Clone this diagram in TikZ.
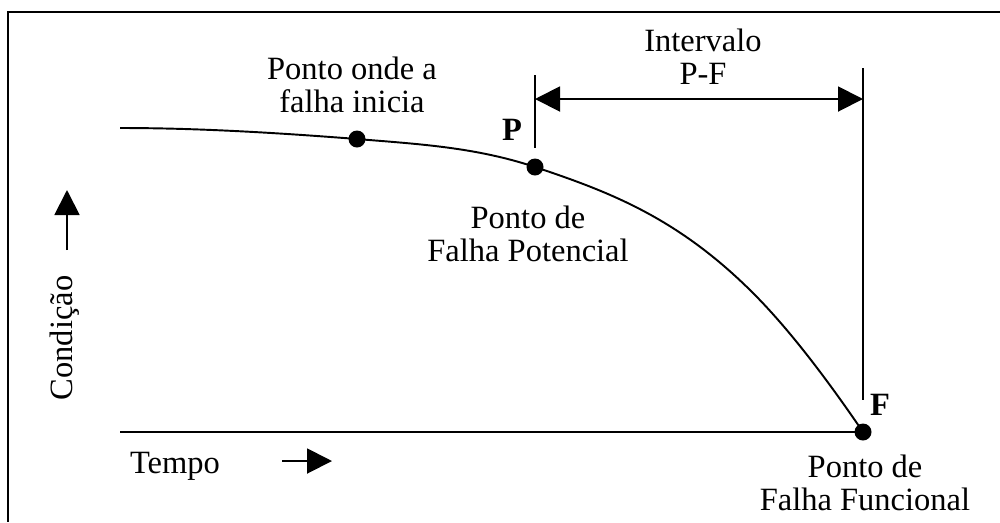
\documentclass[tikz,border=0pt]{standalone}
\usepackage{fontspec}
\setmainfont{Liberation Serif}
\usetikzlibrary{positioning,arrows.meta}

\begin{document}
\begin{tikzpicture}[
		x=0.02cm, y=-0.02cm,
		every node/.style={font=\fontsize{18.5}{19}\selectfont},
		linha/.style={draw, line width=1.1pt},
		seta/.style={linha, -{Triangle[length=0.5cm, width=0.5cm]}},
		cota/.style={linha, {Triangle[length=0.5cm, width=0.5cm]}-{Triangle[length=0.5cm, width=0.5cm]}},
		ponto/.style={circle, fill=black, inner sep=0pt, minimum size=0.34cm},
		rotulo/.style={align=center}
	]
	\useasboundingbox (0,0) rectangle (1000,522);
	\draw[line width=1.1pt] (1000,12) -- (8,12) -- (8,522);

	% pontos da curva
	\coordinate (inicio) at (120,128);
	\node[ponto] (falha) at (357,139) {};
	\node[ponto] (pp) at (535,167) {};
	\coordinate (meio) at (753,293);
	\node[ponto] (pf) at (863,432) {};
	\coordinate (eixo) at (120,432);

	\draw[linha] (inicio) .. controls (200,128) and (280,133) .. (falha.center)
		.. controls (417,144) and (475,147) .. (pp.center)
		.. controls (610,192) and (678,218) .. (meio)
		.. controls (793,333) and (833,388) .. (pf.center);
	\draw[linha] (eixo) -- (pf.center);

	% intervalo P-F
	\coordinate (ptopo) at (535,75);
	\coordinate (pbase) at (535,148);
	\coordinate (ftopo) at (863,68);
	\coordinate (fbase) at (863,400);
	\draw[linha] (ptopo) -- (pbase);
	\draw[linha] (ftopo) -- (fbase);
	\coordinate (cotaP) at (535,99);
	\coordinate (cotaF) at (863,99);
	\draw[cota] (cotaP) -- (cotaF);

	% textos
	\node[rotulo] (intervalo) at (703,57) {Intervalo\\P-F};
	\node[rotulo] (inicia) at (352,85) {Ponto onde a\\falha inicia};
	\node[font=\fontsize{18.5}{19}\selectfont\bfseries] (letraP) at (512,130) {P};
	\node[rotulo] (potencial) at (528,234) {Ponto de\\Falha Potencial};
	\node[font=\fontsize{18.5}{19}\selectfont\bfseries] (letraF) at (880,405) {F};
	\node[rotulo] (funcional) at (865,483) {Ponto de\\Falha Funcional};

	% eixos
	\node (tempo) at (175,466) {Tempo};
	\coordinate (t1) at (282,461);
	\coordinate (t2) at (332,461);
	\draw[seta] (t1) -- (t2);
	\node[rotate=90] (condicao) at (65,338) {Condição};
	\coordinate (c1) at (67,250);
	\coordinate (c2) at (67,190);
	\draw[seta] (c1) -- (c2);
\end{tikzpicture}
\end{document}
